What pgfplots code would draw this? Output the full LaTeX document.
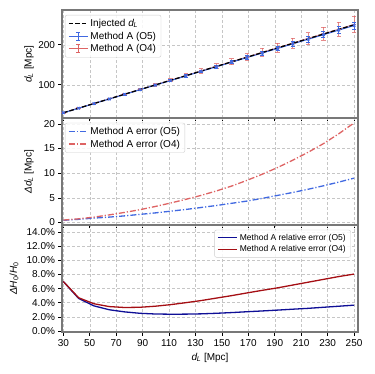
\documentclass[border=0pt]{standalone}
\usepackage{pgfplots}
\usepackage{pgfplotstable}
\usepackage{fontspec}
\setmainfont{Liberation Sans}
\pgfplotsset{compat=1.18}

\definecolor{cfive}{RGB}{65,105,225}
\definecolor{cfour}{RGB}{222,100,100}
\definecolor{cnavy}{RGB}{15,15,150}
\definecolor{cdred}{RGB}{165,15,20}
\definecolor{spine}{RGB}{120,120,120}

\newcommand{\dL}{\textit{d}\textsubscript{\kern-0.5pt\textit{L}}}

% x, measured d_L and errors for O5/O4, relative H0 errors in %
\pgfplotstableread{
x      y5    e5   y4    e4    r5   r4
30.00  30.0  0.45 30.2  0.50  7.00 7.00
41.58  41.4  0.65 41.8  0.75  4.60 4.70
53.16  53.0  0.90 53.4  1.10  3.55 3.85
64.74  64.5  1.10 64.9  1.55  3.00 3.45
76.32  76.0  1.35 76.6  2.05  2.70 3.32
87.89  87.6  1.65 88.2  2.60  2.50 3.35
99.47  99.2  1.95 99.8  3.25  2.40 3.50
111.05 110.6 2.30 111.4 3.95  2.37 3.72
122.63 122.1 2.65 123.0 4.70  2.38 4.00
134.21 133.6 3.05 134.7 5.50  2.42 4.30
145.79 145.1 3.45 146.3 6.40  2.50 4.65
157.37 156.6 3.90 157.9 7.40  2.60 5.00
168.95 168.1 4.35 169.5 8.55  2.72 5.38
180.53 179.5 4.90 181.2 9.80  2.83 5.75
192.11 191.0 5.50 192.8 11.15 2.95 6.10
203.68 202.5 6.10 204.4 12.65 3.08 6.50
215.26 213.9 6.75 216.0 14.25 3.20 6.90
226.84 225.3 7.45 227.6 16.00 3.35 7.30
238.42 236.8 8.20 239.2 18.00 3.50 7.70
250.00 248.2 9.00 251.0 20.20 3.65 8.05
}\data

\pgfplotsset{
  panel/.style={
    scale only axis, width=296pt,
    xmin=29, xmax=253, xtick={30,50,...,250},
    grid=major,
    major grid style={densely dashed, gray!45, line width=0.5pt},
    axis line style={spine, line width=1.3pt},
    tick align=outside, tick pos=left,
    tick style={black, line width=0.6pt},
    major tick length=3.5pt,
    ticklabel style={font=\fontsize{10}{12}\selectfont},
    label style={font=\fontsize{10}{12}\selectfont},
    /pgf/number format/assume math mode=true,
    legend cell align=left,
    legend style={draw=gray!40,
      rounded corners=2pt, fill=white, fill opacity=0.85, text opacity=1,
      inner xsep=3pt, inner ysep=2pt, row sep=0pt},
    legend image code/.code={\draw[#1] (0pt,0pt) -- (19pt,0pt);},
  },
  ebimg/.style={legend image code/.code={
    \draw[#1] (0pt,0pt) -- (19pt,0pt);
    \draw[#1] (9.5pt,-4pt) -- (9.5pt,4pt);
    \draw[#1] (7.5pt,-4pt) -- (11.5pt,-4pt);
    \draw[#1] (7.5pt,4pt) -- (11.5pt,4pt);}},
  dashdot/.style={dash pattern=on 6pt off 2pt on 1.2pt off 2pt},
}

\begin{document}
\begin{tikzpicture}
\useasboundingbox (-62pt,10pt) rectangle (312pt,-364pt);

\begin{axis}[panel, name=top, at={(0,0)}, anchor=north west, height=108pt,
  ymin=17, ymax=287, ytick={100,200}, xticklabels={},
  ylabel={\dL\ [Mpc]},
  ylabel style={at={(axis description cs:-0.111,0.5)}, anchor=center},
  legend style={at={(0.01,0.955)}, anchor=north west,
    font=\fontsize{10}{11.5}\selectfont}]
\addlegendimage{black, dash pattern=on 4.5pt off 2pt, line width=1.3pt}
\addlegendentry{Injected \dL}
\addlegendimage{cfive, line width=1.2pt, ebimg}
\addlegendentry{Method A (O5)}
\addlegendimage{cfour, line width=1.0pt, ebimg}
\addlegendentry{Method A (O4)}
\addplot[cfour, opacity=0.75, line width=0.9pt, mark=-, mark size=2pt,
  forget plot,
  error bars/.cd, y dir=both, y explicit,
  error bar style={line width=0.8pt},
  error mark options={rotate=90, mark size=2.2pt, line width=0.8pt}]
  table[x=x, y=y4, y error=e4] {\data};
\addplot[cfive, line width=1.1pt, mark=x, mark size=1.8pt, forget plot,
  error bars/.cd, y dir=both, y explicit,
  error bar style={line width=0.8pt},
  error mark options={rotate=90, mark size=2pt, line width=0.8pt}]
  table[x=x, y=y5, y error=e5] {\data};
\addplot[black, dash pattern=on 4.5pt off 2pt, line width=1.3pt, forget plot]
  coordinates {(30,30) (250,250)};
\end{axis}

\begin{axis}[panel, name=mid, at={(top.south west)}, anchor=north west, height=107pt,
  ymin=-0.5, ymax=21.2, ytick={0,5,10,15,20}, xticklabels={},
  ylabel={\textit{Δd}\textsubscript{\kern-0.5pt\textit{L}} [Mpc]},
  ylabel style={at={(axis description cs:-0.111,0.5)}, anchor=center},
  legend style={at={(0.01,0.955)}, anchor=north west,
    font=\fontsize{10}{11.5}\selectfont}]
\addplot[cfive, dashdot, line width=1.3pt] table[x=x, y=e5] {\data};
\addlegendentry{Method A error (O5)}
\addplot[cfour, dashdot, line width=1.3pt] table[x=x, y=e4] {\data};
\addlegendentry{Method A error (O4)}
\end{axis}

\begin{axis}[panel, name=bot, at={(mid.south west)}, anchor=north west, height=107pt,
  ymin=-0.15, ymax=15, ytick={0,2,...,14},
  yticklabel={\pgfmathprintnumber[fixed,fixed zerofill,precision=1]{\tick}\%},
  ylabel={\textit{ΔH}\textsubscript{0}/\textit{H}\textsubscript{0}},
  ylabel style={at={(axis description cs:-0.162,0.5)}, anchor=center},
  xlabel={\dL\ [Mpc]},
  legend style={at={(0.976,0.955)}, anchor=north east,
    font=\fontsize{8.5}{10}\selectfont}]
\addplot[cnavy, line width=1.3pt] table[x=x, y=r5] {\data};
\addlegendentry{Method A relative error (O5)}
\addplot[cdred, line width=1.3pt] table[x=x, y=r4] {\data};
\addlegendentry{Method A relative error (O4)}
\end{axis}
\end{tikzpicture}
\end{document}
